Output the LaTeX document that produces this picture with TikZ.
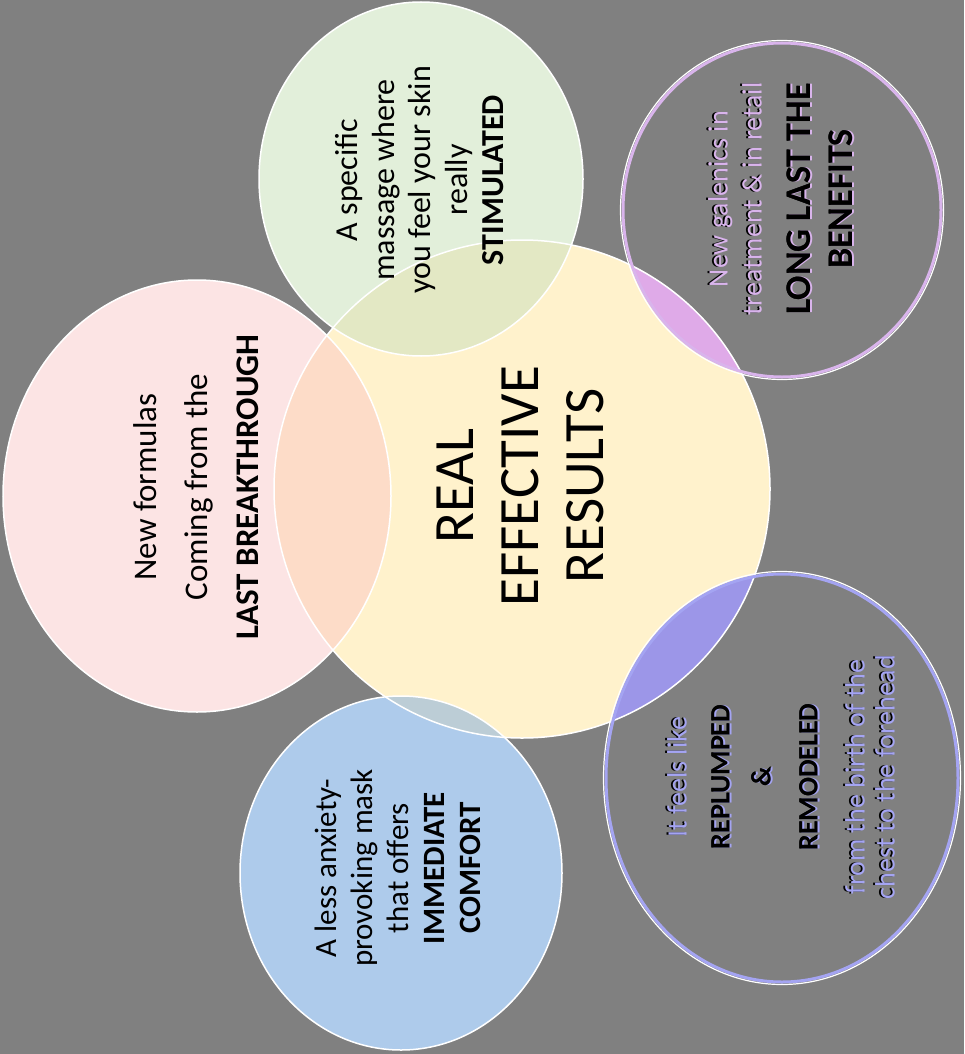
\documentclass[tikz,border=0pt]{standalone}
\usepackage{fontspec}
\setmainfont{Carlito}

\definecolor{bggray}{HTML}{808080}
\definecolor{coreyellow}{HTML}{FFF2CC}
\definecolor{formpink}{HTML}{FCE4E4}
\definecolor{massgreen}{HTML}{E2EFDA}
\definecolor{maskblue}{HTML}{AECBEB}
\definecolor{pinkover}{HTML}{FDDCC8}
\definecolor{greenover}{HTML}{E3E8C4}
\definecolor{blueover}{HTML}{BCCDD6}
\definecolor{galenlav}{HTML}{D9B4EC}
\definecolor{lavover}{HTML}{DFAAE8}
\definecolor{remodviolet}{HTML}{A4A4F2}
\definecolor{violetover}{HTML}{9C96E8}

% two-tone text of the outlined bubbles
\newcommand{\galentext}[2]{#1{New galenics in}\\#1{treatment \& in retail}\\[17pt]#2{\fontsize{36}{40}\selectfont\textbf{LONG LAST THE}}\\[8pt]#2{\fontsize{36}{40}\selectfont\textbf{BENEFITS}}}
\newcommand{\remodtext}[2]{#1{It feels like}\\[15pt]#2{\textbf{REPLUMPED}}\\[11pt]#2{\textbf{\&}}\\[17pt]#2{\textbf{REMODELED}}\\[15pt]#1{from the birth of the}\\#1{chest to the forehead}}

\begin{document}
\begin{tikzpicture}[x=1pt,y=-1pt,
    bubble/.style={rotate=90, align=center, inner sep=0pt, text=black},
    rim/.style={draw=white, line width=1.5pt}
  ]

  \useasboundingbox (0,0) rectangle (964,1054);
  \fill[bggray] (0,0) rectangle (964,1054);

  % Mittelpunkte
  \coordinate (core)    at (522,489);
  \coordinate (form)    at (197,496);
  \coordinate (massage) at (421,179);
  \coordinate (mask)    at (401,873);
  \coordinate (galen)   at (782,210);
  \coordinate (remod)   at (782,778);

  % Flächen
  \fill[formpink]   (form)    ellipse [x radius=194pt, y radius=216pt];
  \fill[massgreen]  (massage) ellipse [x radius=162pt, y radius=177pt];
  \fill[maskblue]   (mask)    ellipse [x radius=161pt, y radius=177pt];
  \fill[coreyellow] (core)    ellipse [x radius=248pt, y radius=249pt];

  % Überschneidungen
  \begin{scope}
    \clip (core) ellipse [x radius=248pt, y radius=249pt];
    \fill[pinkover]   (form)    ellipse [x radius=194pt, y radius=216pt];
    \fill[greenover]  (massage) ellipse [x radius=162pt, y radius=177pt];
    \fill[blueover]   (mask)    ellipse [x radius=161pt, y radius=177pt];
    \fill[lavover]    (galen)   ellipse [x radius=160pt, y radius=168pt];
    \fill[violetover] (remod)   ellipse [x radius=177pt, y radius=205pt];
  \end{scope}

  % Ränder
  \draw[rim] (form)    ellipse [x radius=194pt, y radius=216pt];
  \draw[rim] (massage) ellipse [x radius=162pt, y radius=177pt];
  \draw[rim] (mask)    ellipse [x radius=161pt, y radius=177pt];
  \draw[rim] (core)    ellipse [x radius=248pt, y radius=249pt];
  \draw[galenlav, line width=3pt] (galen) ellipse [x radius=159pt, y radius=167pt];
  \draw[white, line width=1.2pt]  (galen) ellipse [x radius=161.5pt, y radius=169.5pt];
  \draw[remodviolet, line width=3pt] (remod) ellipse [x radius=176pt, y radius=204pt];
  \draw[white, line width=1.2pt]     (remod) ellipse [x radius=178.5pt, y radius=206.5pt];

  % Texte
  \node[bubble, font=\fontsize{57}{65}\selectfont] (coretext) at (520,486)
    {REAL\\EFFECTIVE\\RESULTS};
  \node[bubble, font=\fontsize{33}{51}\selectfont] (formtext) at (196,487)
    {New formulas\\Coming from the\\\textbf{LAST BREAKTHROUGH}};
  \node[bubble, font=\fontsize{32}{36.5}\selectfont] (massagetext) at (420,180)
    {A specific\\massage where\\you feel your skin\\really\\\textbf{STIMULATED}};
  \node[bubble, font=\fontsize{31}{36}\selectfont] (masktext) at (398,868)
    {A less anxiety-\\provoking mask\\that offers\\\textbf{IMMEDIATE}\\\textbf{COMFORT}};

  \node[bubble, font=\fontsize{28}{34}\selectfont] (galenshadow) at (779.5,199)
    {\galentext{\textcolor{black}}{\textcolor{black}}};
  \node[bubble, font=\fontsize{28}{34}\selectfont] (galentext) at (781.5,199)
    {\galentext{\textcolor{galenlav}}{\textcolor{galenlav}}};
  \node[bubble, font=\fontsize{28}{34}\selectfont] (galenbold) at (779.5,199)
    {\galentext{\phantom}{\textcolor{black}}};

  \node[bubble, font=\fontsize{28}{30}\selectfont] (remodshadow) at (779,777)
    {\remodtext{\textcolor{black}}{\textcolor{black}}};
  \node[bubble, font=\fontsize{28}{30}\selectfont] (remodtext) at (781,777)
    {\remodtext{\textcolor{remodviolet}}{\textcolor{remodviolet}}};
  \node[bubble, font=\fontsize{28}{30}\selectfont] (remodbold) at (779,777)
    {\remodtext{\phantom}{\textcolor{black}}};

\end{tikzpicture}
\end{document}
